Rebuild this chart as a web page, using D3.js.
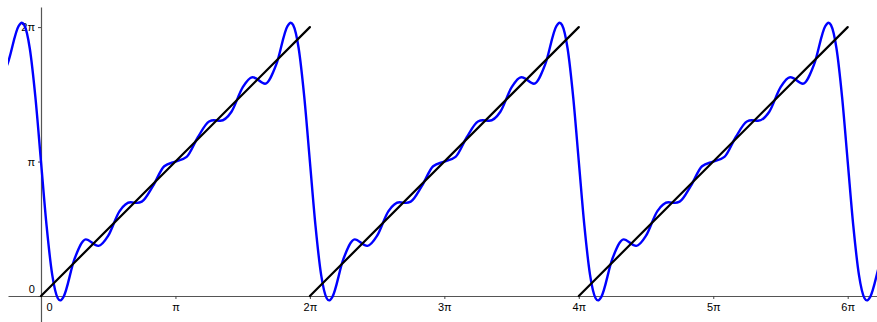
<!DOCTYPE html>
<html>
<head>
<meta charset="utf-8">
<script src="https://cdn.jsdelivr.net/npm/d3@7"></script>
<style>
  body { margin: 0; background: #fff; }
  text { font-family: "Liberation Sans", Arial, sans-serif; font-size: 11px; fill: #000; }
</style>
</head>
<body>
<div id="chart"></div>
<script>
var PI = Math.PI;

// one period of the blue curve, x in multiples of pi, y in radians
var periodX = [0, 0.0417, 0.0833, 0.125, 0.1429, 0.1667, 0.25, 0.3333, 0.4167, 0.4286, 0.5, 0.5833,
  0.6667, 0.7143, 0.75, 0.8333, 0.9167, 1,
  1.0833, 1.1667, 1.25, 1.2857, 1.3333, 1.4167, 1.5, 1.5714, 1.5833, 1.6667, 1.75, 1.8333,
  1.8571, 1.875, 1.9167, 1.9583, 2];
var periodY = [3.1416, 1.6374, 0.4998, -0.0521, -0.1028, -0.0241, 0.8722, 1.3229, 1.1773, 1.1715, 1.4083, 1.9779,
  2.1890, 2.1760, 2.2055, 2.5740, 3.0325, 3.1416,
  3.2507, 3.7092, 4.0777, 4.1072, 4.0942, 4.3052, 4.8749, 5.1117, 5.1059, 4.9602, 5.4110, 6.3073,
  6.3860, 6.3352, 5.7833, 4.6458, 3.1416];
// the period is repeated at these shifts (in periods of 2 pi)
var periodShifts = [-1, 0, 1, 2, 3];

// black sawtooth segments, x in multiples of pi, y in multiples of pi
var sawX0 = [0, 2, 4];
var sawX1 = [2, 4, 6];
var sawY0 = [0, 0, 0];
var sawY1 = [2, 2, 2];

var xTicks = [0, 1, 2, 3, 4, 5, 6];
var xTickLabels = ["0", "π", "2π", "3π", "4π", "5π", "6π"];
var yTicks = [0, 1, 2];
var yTickLabels = ["0", "π", "2π"];

var svgWidth = 877;
var svgHeight = 322;

var svg = d3.select("#chart")
  .append("svg")
    .attr("width", svgWidth)
    .attr("height", svgHeight);

// x in multiples of pi, y in radians
var xScale = d3.scaleLinear()
  .domain([-0.2454, 6.2179])
  .range([8, 877]);

var yScale = d3.scaleLinear()
  .domain([-0.1934 * PI, 2.1495 * PI])
  .range([322, 7]);

svg.append("clipPath")
  .attr("id", "plotClip")
  .append("rect")
    .attr("x", 8)
    .attr("y", 0)
    .attr("width", 869)
    .attr("height", 322);

// axes
var xAxis = svg.append("g")
  .attr("transform", `translate(0, ${yScale(0)})`)
  .call(d3.axisBottom(xScale)
    .tickValues(xTicks)
    .tickSize(3)
    .tickSizeOuter(0)
    .tickPadding(4)
    .tickFormat((d, i) => xTickLabels[i]));

var yAxis = svg.append("g")
  .attr("transform", `translate(${xScale(0)}, 0)`)
  .call(d3.axisLeft(yScale)
    .tickValues(yTicks.map(d => d * PI))
    .tickSize(3)
    .tickSizeOuter(0)
    .tickPadding(3)
    .tickFormat((d, i) => yTickLabels[i]));

[xAxis, yAxis].forEach(function(ax) {
  ax.attr("font-size", null).attr("font-family", null);
  ax.select(".domain").attr("stroke", "#555").attr("stroke-width", 1.2);
  ax.selectAll(".tick line").attr("stroke", "#444");
});

// origin labels sit off the corner
xAxis.selectAll(".tick").filter(d => d === 0).select("text").attr("dx", 8);
yAxis.selectAll(".tick").filter(d => d === 0).select("text").attr("dy", "-0.3em");

// blue curve
var curvePoints = [];
periodShifts.forEach(function(s, si) {
  periodX.forEach(function(x, i) {
    if (i === periodX.length - 1 && si < periodShifts.length - 1) return;
    curvePoints.push([x + 2 * s, periodY[i]]);
  });
});

var line = d3.line()
  .x(d => xScale(d[0]))
  .y(d => yScale(d[1]))
  .curve(d3.curveMonotoneX);

svg.append("path")
  .datum(curvePoints)
  .attr("clip-path", "url(#plotClip)")
  .attr("fill", "none")
  .attr("stroke", "#0000ff")
  .attr("stroke-width", 2.4)
  .attr("d", line);

// black sawtooth lines
svg.selectAll(".saw")
  .data(sawX0)
  .enter()
  .append("line")
    .attr("class", "saw")
    .attr("x1", (d, i) => xScale(sawX0[i]))
    .attr("y1", (d, i) => yScale(sawY0[i] * PI))
    .attr("x2", (d, i) => xScale(sawX1[i]))
    .attr("y2", (d, i) => yScale(sawY1[i] * PI))
    .attr("stroke", "#000")
    .attr("stroke-width", 2.2)
    .attr("stroke-linecap", "round");
</script>
</body>
</html>
